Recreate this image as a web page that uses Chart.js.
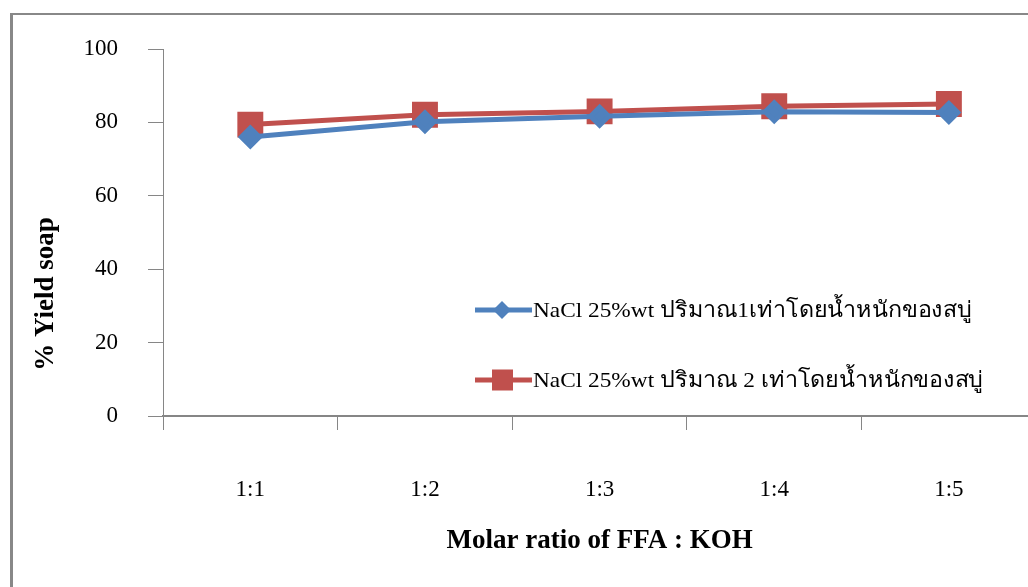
<!DOCTYPE html>
<html lang="th">
<head>
  <meta charset="UTF-8" />
  <title>% Yield soap</title>
  <script src="https://cdn.jsdelivr.net/npm/chart.js"></script>
  <style>
    body {
      margin: 0;
      background: #ffffff;
      overflow: hidden;
    }

    #wrap {
      position: relative;
      width: 1028px;
      height: 587px;
      overflow: hidden;
      background: #ffffff;
    }

    #frame {
      position: absolute;
      left: 10px;
      top: 13px;
      width: 1100px;
      height: 700px;
      border-left: 3px solid #888888;
      border-top: 2px solid #888888;
    }

    #yieldChart {
      position: absolute;
      left: 0;
      top: 0;
    }
  </style>
</head>
<body>

<div id="wrap">
  <div id="frame"></div>
  <canvas id="yieldChart" width="1056" height="587"></canvas>
</div>

<script>
  const ratios = ['1:1', '1:2', '1:3', '1:4', '1:5'];
  const yieldOnce = [76.0, 80.2, 81.7, 82.9, 82.7];
  const yieldTwice = [79.4, 82.1, 83.0, 84.4, 85.0];
  const seriesNames = [
    'NaCl 25%wt ปริมาณ1เท่าโดยน้ำหนักของสบู่',
    'NaCl 25%wt ปริมาณ 2 เท่าโดยน้ำหนักของสบู่'
  ];
  const yTitle = '% Yield soap';

  const serif = "'Liberation Serif', 'Times New Roman', serif";
  const axisGray = '#868686';

  // legend sits inside the plot, lower right; y title sits lower than centre
  const extras = {
    id: 'extras',
    afterDraw(chart) {
      const ctx = chart.ctx;
      const rows = [310, 380];
      ctx.save();
      chart.data.datasets.forEach((ds, i) => {
        const y = rows[i];
        ctx.strokeStyle = ds.borderColor;
        ctx.lineWidth = 5;
        ctx.beginPath();
        ctx.moveTo(475, y);
        ctx.lineTo(532, y);
        ctx.stroke();
        ctx.fillStyle = ds.borderColor;
        if (ds.pointStyle === 'rect') {
          ctx.fillRect(492, y - 10.5, 21, 21);
        } else {
          ctx.beginPath();
          ctx.moveTo(502, y - 9);
          ctx.lineTo(511, y);
          ctx.lineTo(502, y + 9);
          ctx.lineTo(493, y);
          ctx.closePath();
          ctx.fill();
        }
        // text in the original is a bit wider than Liberation Serif
        ctx.save();
        ctx.translate(533, y + 1);
        ctx.scale(1.06, 1);
        ctx.fillStyle = '#000000';
        ctx.font = '22px ' + serif;
        ctx.textBaseline = 'middle';
        ctx.textAlign = 'left';
        ctx.fillText(ds.label, 0, 0);
        ctx.restore();
      });

      ctx.save();
      ctx.translate(46, 294);
      ctx.rotate(-Math.PI / 2);
      ctx.fillStyle = '#000000';
      ctx.font = 'bold 27px ' + serif;
      ctx.textBaseline = 'middle';
      ctx.textAlign = 'center';
      ctx.fillText(yTitle, 0, 0);
      ctx.restore();

      ctx.restore();
    }
  };

  new Chart(document.getElementById('yieldChart').getContext('2d'), {
    type: 'line',
    data: {
      labels: ratios,
      datasets: [{
        label: seriesNames[0],
        data: yieldOnce,
        borderColor: '#4f81bd',
        backgroundColor: '#4f81bd',
        borderWidth: 5,
        pointStyle: 'rectRot',
        pointRadius: 9,
        pointHoverRadius: 9,
        tension: 0
      }, {
        label: seriesNames[1],
        data: yieldTwice,
        borderColor: '#c0504d',
        backgroundColor: '#c0504d',
        borderWidth: 5,
        pointStyle: 'rect',
        pointRadius: 14.8,
        pointHoverRadius: 14.8,
        tension: 0
      }]
    },
    options: {
      responsive: false,
      devicePixelRatio: 1,
      animation: false,
      layout: {
        padding: { top: 49, right: 4.5, left: 0, bottom: 0 }
      },
      plugins: {
        legend: { display: false },
        tooltip: { enabled: false }
      },
      scales: {
        x: {
          type: 'category',
          offset: true,
          afterFit(scale) { scale.height = 171; },
          grid: {
            offset: true,
            drawOnChartArea: false,
            tickLength: 14,
            color: axisGray
          },
          border: { color: axisGray, width: 2 },
          ticks: {
            color: '#000000',
            padding: 46,
            font: { family: serif, size: 23 }
          },
          title: {
            display: true,
            text: 'Molar ratio of FFA : KOH',
            color: '#000000',
            padding: { top: 0, bottom: 30 },
            font: { family: serif, size: 27, weight: 'bold' }
          }
        },
        y: {
          min: 0,
          max: 100,
          afterFit(scale) { scale.width = 163; },
          grid: {
            drawOnChartArea: false,
            tickLength: 15,
            color: axisGray
          },
          border: { color: axisGray, width: 1 },
          ticks: {
            stepSize: 20,
            color: '#000000',
            padding: 30,
            font: { family: serif, size: 23 }
          },
          title: { display: false }
        }
      }
    },
    plugins: [extras]
  });
</script>

</body>
</html>
